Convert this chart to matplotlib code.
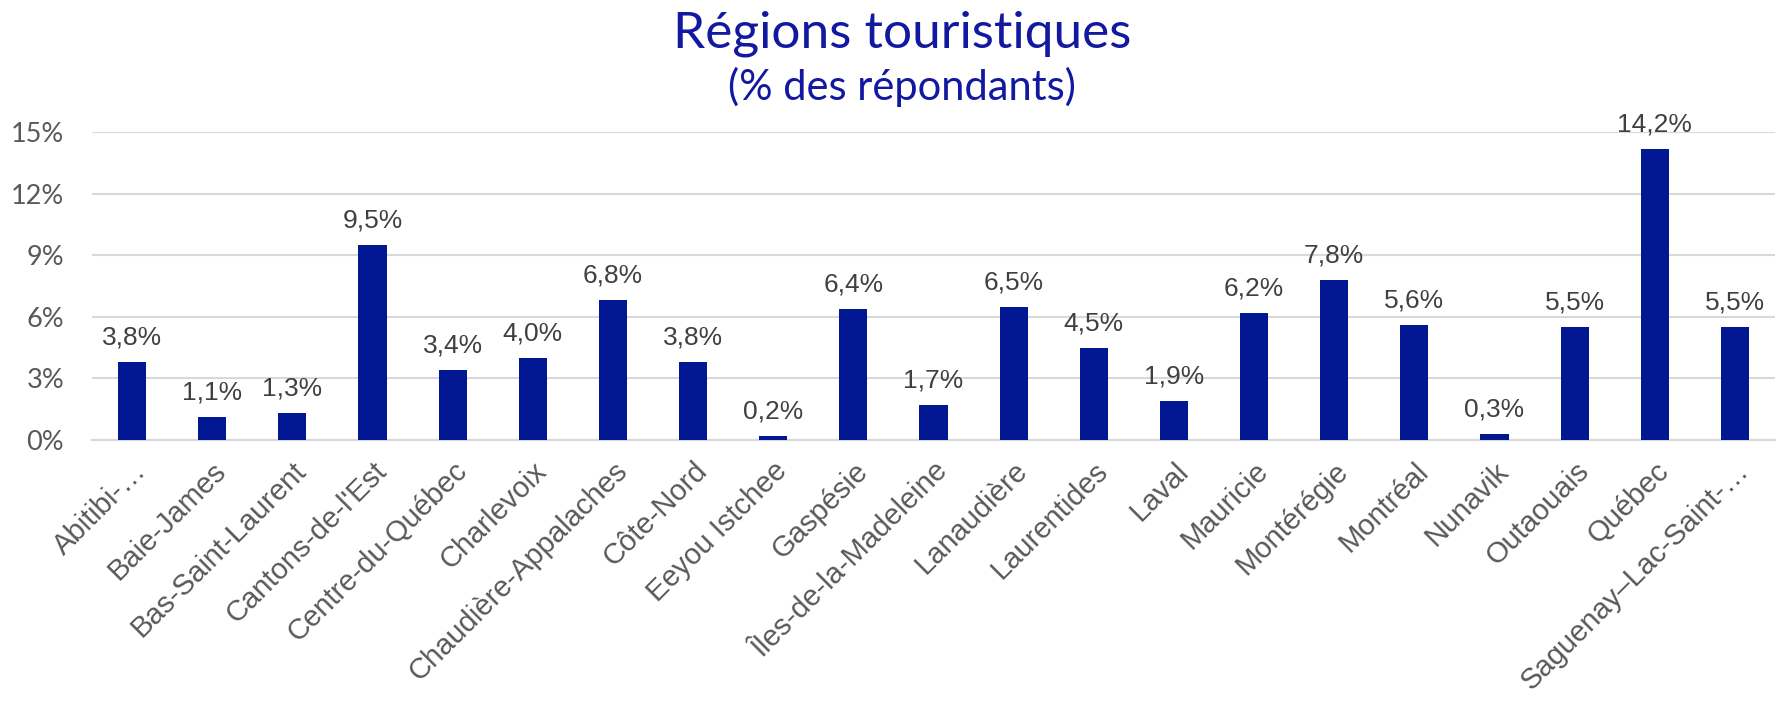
import matplotlib
matplotlib.use("Agg")
import matplotlib.pyplot as plt
import matplotlib.transforms as mtransforms
from matplotlib.ticker import FuncFormatter

# données
regions = ["Abitibi-…", "Baie-James", "Bas-Saint-Laurent", "Cantons-de-l'Est",
           "Centre-du-Québec", "Charlevoix", "Chaudière-Appalaches", "Côte-Nord",
           "Eeyou Istchee", "Gaspésie", "Îles-de-la-Madeleine", "Lanaudière",
           "Laurentides", "Laval", "Mauricie", "Montérégie", "Montréal", "Nunavik",
           "Outaouais", "Québec", "Saguenay–Lac-Saint-…"]
pct = [3.8, 1.1, 1.3, 9.5, 3.4, 4.0, 6.8, 3.8, 0.2, 6.4, 1.7, 6.5,
       4.5, 1.9, 6.2, 7.8, 5.6, 0.3, 5.5, 14.2, 5.5]
yticks = [0, 3, 6, 9, 12, 15]

bar_color = "#021893"
title_color = "#1219A0"

fig = plt.figure(figsize=(17.83, 7.03), dpi=100)
ax = fig.add_axes([0.0516, 0.374, 0.9439, 0.438])

x = range(len(regions))
ax.bar(x, pct, width=0.35, color=bar_color, zorder=3)

for xi, v in zip(x, pct):
    ax.annotate(f"{v:.1f}%".replace(".", ","), (xi, v), xytext=(0, 9),
                textcoords="offset points", ha="center", va="bottom",
                fontsize=19, color="#404040", family="Liberation Sans")

ax.set_xlim(-0.5, len(regions) - 0.5)
ax.set_ylim(0, 15)
ax.set_yticks(yticks)
ax.yaxis.set_major_formatter(FuncFormatter(lambda v, p: f"{v:.0f}%"))
ax.grid(axis="y", color="#d9d9d9", linewidth=1.5, zorder=0)
for s in ["top", "right", "left"]:
    ax.spines[s].set_visible(False)
ax.spines["bottom"].set_color("#d9d9d9")
ax.spines["bottom"].set_linewidth(1.5)
ax.tick_params(length=0)

ax.set_xticks(list(x))
ax.set_xticklabels(regions, rotation=45, ha="right", rotation_mode="anchor",
                   fontsize=21, color="#595959", family="Liberation Sans")
shift = mtransforms.ScaledTranslation(12 / 100, 0, fig.dpi_scale_trans)
for lab in ax.get_xticklabels():
    lab.set_transform(lab.get_transform() + shift)
for lab in ax.get_yticklabels():
    lab.set_fontsize(19.5)
    lab.set_color("#595959")
    lab.set_family("Lato")
ax.tick_params(axis="x", pad=12)
ax.tick_params(axis="y", pad=20)

fig.text(0.506, 0.952, "Régions touristiques", ha="center", va="center",
         fontsize=37, color=title_color, family="Lato")
fig.text(0.506, 0.876, "(% des répondants)", ha="center", va="center",
         fontsize=30, color=title_color, family="Lato")

fig.savefig("out.png", dpi=100)
